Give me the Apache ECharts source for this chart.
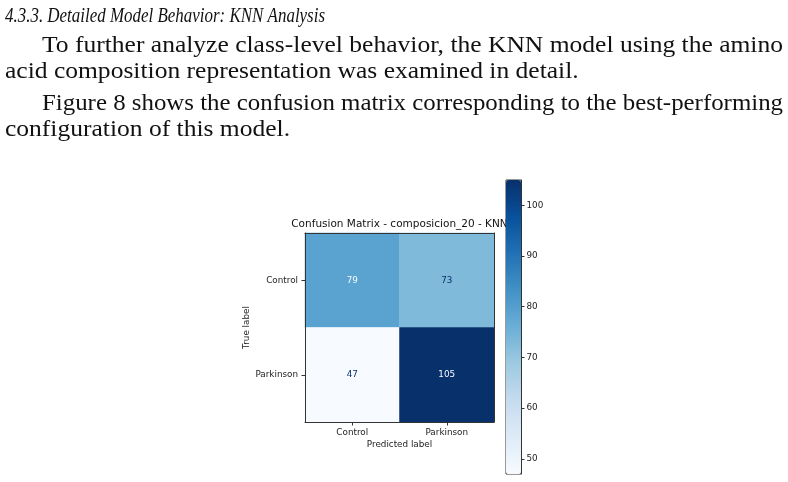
<!DOCTYPE html>
<html>
<head>
<meta charset="UTF-8">
<title>Confusion Matrix - KNN</title>
<style>
    html, body {
        margin: 0;
        padding: 0;
        background: #fff;
    }
    #main {
        width: 788px;
        height: 482px;
    }
</style>
<script src="https://cdn.jsdelivr.net/npm/echarts@6/dist/echarts.min.js"></script>
</head>
<body>
<div id="main"></div>
<script type="text/javascript">
    // data
    var classNames = ['Control', 'Parkinson'];
    var matrixRows = [[79, 73], [47, 105]];   // row = true label, column = predicted label
    var colorbarTicks = [50, 60, 70, 80, 90, 100];
    var colorMin = 47;
    var colorMax = 105;
    var chartTitle = 'Confusion Matrix - composicion_20 - KNN';

    // text of the page above the figure
    var headingText = '4.3.3. Detailed Model Behavior: KNN Analysis';
    var bodyLines = [
        'To further analyze class-level behavior, the KNN model using the amino',
        'acid composition representation was examined in detail.',
        'Figure 8 shows the confusion matrix corresponding to the best-performing',
        'configuration of this model.'
    ];

    // matplotlib "Blues"
    var blues = ['#f7fbff', '#deebf7', '#c6dbef', '#9ecae1', '#6baed6',
                 '#4292c6', '#2171b5', '#08519c', '#08306b'];

    var measureCtx = document.createElement('canvas').getContext('2d');
    function fitScale(text, font, width) {
        measureCtx.font = font;
        return width / measureCtx.measureText(text).width;
    }

    var serif = '"Liberation Serif", "DejaVu Serif", serif';
    var sans = '"DejaVu Sans", sans-serif';
    var headSize = 20.5;
    var fs = 23;

    // x, baseline, target width of each body line (0 = not justified)
    var lineLayout = [
        [42, 53, 741],
        [5, 79, 0],
        [42, 111, 741],
        [5, 137, 0]
    ];

    var graphics = [];
    var headFont = 'italic ' + headSize + 'px ' + serif;
    graphics.push({
        type: 'text',
        x: 5, y: 23 - 0.3 * headSize,
        scaleX: fitScale(headingText, headFont, 320),
        style: {
            text: headingText,
            font: headFont,
            fill: '#111',
            textAlign: 'left',
            textVerticalAlign: 'middle'
        }
    });
    var bodyFont = fs + 'px ' + serif;
    var plainScale = fitScale(bodyLines[0], bodyFont, 741);
    bodyLines.forEach(function (line, i) {
        var l = lineLayout[i];
        graphics.push({
            type: 'text',
            x: l[0], y: l[1] - 0.3 * fs,
            scaleX: l[2] ? fitScale(line, bodyFont, l[2]) : plainScale,
            style: {
                text: line,
                font: bodyFont,
                fill: '#111',
                textAlign: 'left',
                textVerticalAlign: 'middle'
            }
        });
    });
    // plot title, kept under the colour bar like the original
    graphics.push({
        type: 'text',
        x: 399.5, y: 224,
        z: -1,
        style: {
            text: chartTitle,
            font: '10.5px ' + sans,
            fill: '#111',
            textAlign: 'center',
            textVerticalAlign: 'middle'
        }
    });

    var threshold = (colorMin + colorMax) / 2;
    var cells = [];
    matrixRows.forEach(function (row, r) {
        row.forEach(function (v, c) {
            cells.push({
                value: [c, r, v],
                label: { color: v > threshold ? blues[0] : blues[8] }
            });
        });
    });

    var tickFont = 8.8;
    var frame = '#333';

    var myChart = echarts.init(document.getElementById('main'));
    var option = {
        animation: false,
        backgroundColor: '#fff',
        graphic: graphics,
        grid: [
            { left: 305, top: 233, width: 189, height: 189 },
            { left: 506, top: 180, width: 15, height: 294, show: true,
              borderColor: frame, borderWidth: 1, backgroundColor: 'transparent' }
        ],
        xAxis: [{
            type: 'category',
            gridIndex: 0,
            data: classNames,
            position: 'bottom',
            axisLine: { show: true, lineStyle: { color: frame, width: 1 } },
            axisTick: { show: true, alignWithLabel: true, length: 3.5, lineStyle: { color: frame } },
            axisLabel: { fontSize: tickFont, color: '#222', margin: 6, fontFamily: sans },
            splitLine: { show: false },
            name: 'Predicted label',
            nameLocation: 'middle',
            nameGap: 18,
            nameTextStyle: { fontSize: tickFont, color: '#222', fontFamily: sans },
            z: 5
        }, {
            type: 'category',
            gridIndex: 0,
            data: classNames,
            position: 'top',
            axisLine: { show: true, lineStyle: { color: frame, width: 1 } },
            axisTick: { show: false },
            axisLabel: { show: false },
            z: 5
        }, {
            type: 'value',
            gridIndex: 1,
            show: false
        }],
        yAxis: [{
            type: 'category',
            gridIndex: 0,
            data: classNames,
            inverse: true,
            position: 'left',
            axisLine: { show: true, lineStyle: { color: frame, width: 1 } },
            axisTick: { show: true, alignWithLabel: true, length: 3.5, lineStyle: { color: frame } },
            axisLabel: { fontSize: tickFont, color: '#222', margin: 7, fontFamily: sans },
            splitLine: { show: false },
            name: 'True label',
            nameLocation: 'middle',
            nameGap: 53,
            nameRotate: 90,
            nameTextStyle: { fontSize: tickFont, color: '#222', fontFamily: sans },
            z: 5
        }, {
            type: 'category',
            gridIndex: 0,
            data: classNames,
            inverse: true,
            position: 'right',
            axisLine: { show: true, lineStyle: { color: frame, width: 1 } },
            axisTick: { show: false },
            axisLabel: { show: false },
            z: 5
        }, {
            type: 'value',
            gridIndex: 1,
            position: 'right',
            min: colorMin,
            max: colorMax,
            axisLine: { show: true, onZero: false, lineStyle: { color: frame, width: 1 } },
            axisTick: { show: true, length: 3.5, lineStyle: { color: frame }, customValues: colorbarTicks },
            axisLabel: { fontSize: tickFont, color: '#222', margin: 5.5, fontFamily: sans, customValues: colorbarTicks },
            splitLine: { show: false },
            z: 5
        }],
        visualMap: {
            type: 'continuous',
            seriesIndex: 0,
            min: colorMin,
            max: colorMax,
            calculable: false,
            hoverLink: false,
            orient: 'vertical',
            left: 506,
            top: 180,
            padding: 0,
            itemWidth: 15,
            itemHeight: 294,
            inRange: { color: blues },
            z: 4
        },
        series: [{
            type: 'heatmap',
            xAxisIndex: 0,
            yAxisIndex: 0,
            data: cells,
            label: {
                show: true,
                fontSize: tickFont,
                fontFamily: sans,
                formatter: function (p) { return p.value[2]; }
            },
            itemStyle: { borderWidth: 0 }
        }]
    };
    myChart.setOption(option);
</script>
</body>
</html>
